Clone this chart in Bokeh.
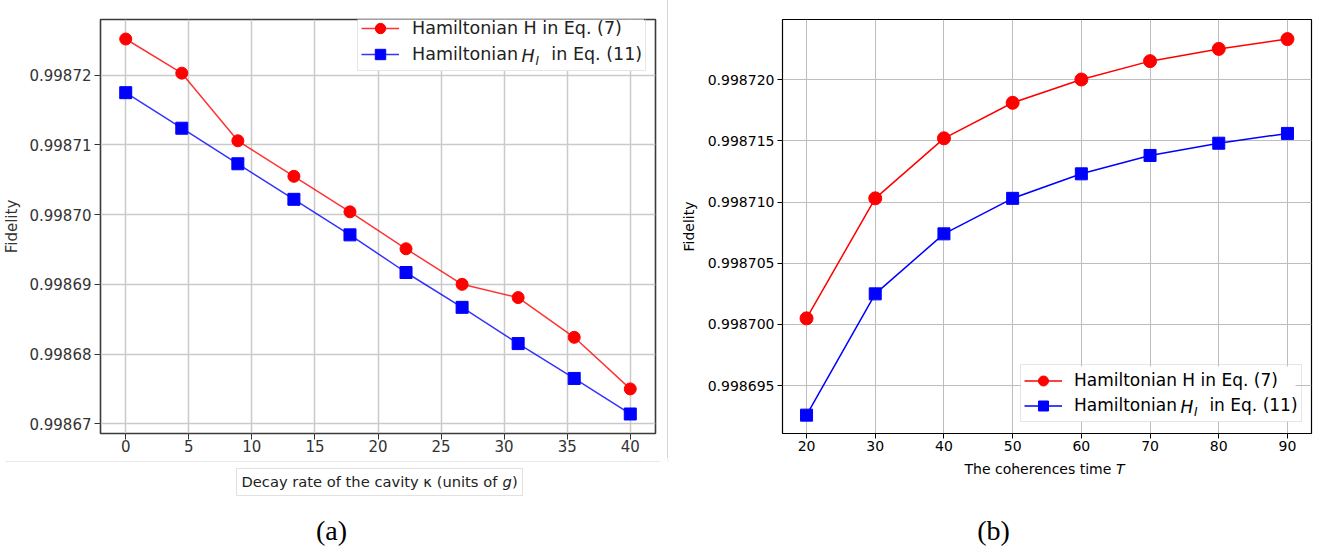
from bokeh.plotting import figure
from bokeh.layouts import row, column
from bokeh.models import Label, BoxAnnotation, PrintfTickFormatter, Div
from bokeh.embed import file_html
from bokeh.resources import INLINE

# ---------------- data: panel (a) ----------------
kappa = [0.0, 4.444, 8.889, 13.333, 17.778, 22.222, 26.667, 31.111, 35.556, 40.0]
fid_H_a = [0.9987252, 0.9987203, 0.9987106, 0.9987055, 0.9987004,
           0.9986951, 0.9986900, 0.9986881, 0.9986824, 0.9986750]
fid_HI_a = [0.9987175, 0.9987124, 0.9987073, 0.9987022, 0.9986971,
            0.9986917, 0.9986867, 0.9986815, 0.9986765, 0.9986714]
a_xticks = [0, 5, 10, 15, 20, 25, 30, 35, 40]
a_yticks = [0.99867, 0.99868, 0.99869, 0.99870, 0.99871, 0.99872]

# ---------------- data: panel (b) ----------------
T_coh = [20, 30, 40, 50, 60, 70, 80, 90]
fid_H_b = [0.9987005, 0.9987103, 0.9987152, 0.9987181,
           0.9987200, 0.9987215, 0.9987225, 0.9987233]
fid_HI_b = [0.9986926, 0.9987025, 0.9987074, 0.9987103,
            0.9987123, 0.9987138, 0.9987148, 0.9987156]
b_xticks = [20, 30, 40, 50, 60, 70, 80, 90]
b_yticks = [0.998695, 0.998700, 0.998705, 0.998710, 0.998715, 0.998720]

label_H = "Hamiltonian H in Eq. (7)"
label_HI = "Hamiltonian\u00a0\u00a0\u00a0\u00a0\u00a0\u00a0in Eq. (11)"

FONT = "DejaVu Sans"


def style_axes(p, tick_size, color, grid_color, grid_width, outline_color, outline_width):
    for ax in (p.xaxis, p.yaxis):
        ax.major_label_text_font = FONT
        ax.major_label_text_font_size = tick_size
        ax.major_label_text_color = color
        ax.major_tick_line_color = color
        ax.major_tick_out = 5
        ax.major_tick_in = 0
        ax.minor_tick_line_color = None
        ax.axis_line_color = None
        ax.major_label_standoff = 3
        ax.axis_label_text_font = FONT
        ax.axis_label_text_font_style = "normal"
        ax.axis_label_text_color = color
    p.xgrid.grid_line_color = grid_color
    p.ygrid.grid_line_color = grid_color
    p.xgrid.grid_line_width = grid_width
    p.ygrid.grid_line_width = grid_width
    p.outline_line_color = outline_color
    p.outline_line_width = outline_width
    p.background_fill_color = "white"
    p.border_fill_color = "white"


def lab(p, x, y, text, size, italic=False, align="left", font=FONT, color="black"):
    p.add_layout(Label(x=x, y=y, x_units="screen", y_units="screen", text=text,
                       text_font=font, text_font_size=size,
                       text_font_style="italic" if italic else "normal",
                       text_align=align, text_baseline="middle", text_color=color,
                       level="overlay"))


def sbox(p, left, right, top, bottom, color, width=1, fill=None, level="annotation"):
    p.add_layout(BoxAnnotation(left=left, right=right, top=top, bottom=bottom,
                               left_units="screen", right_units="screen",
                               top_units="screen", bottom_units="screen",
                               fill_color=fill if fill else "white",
                               fill_alpha=1 if fill else 0,
                               line_color=color, line_width=width, level=level))


def style_legend(lg, x, y, font_size, row_h, pad, standoff, color):
    lg.location = (x, y)
    lg.margin = 0
    lg.padding = pad
    lg.spacing = 0
    lg.glyph_width = 38
    lg.glyph_height = row_h
    lg.label_height = row_h
    lg.label_standoff = standoff
    lg.label_text_font = FONT
    lg.label_text_font_size = font_size
    lg.label_text_color = color
    lg.border_line_color = "#cccccc"
    lg.border_line_width = 1
    lg.background_fill_alpha = 0


# ================= panel (a) =================
pa = figure(width=667, height=458, x_range=(-2, 42), y_range=(0.9986686, 0.998728),
            output_backend="svg", toolbar_location=None,
            min_border_left=98, min_border_right=12, min_border_top=4, min_border_bottom=24)
style_axes(pa, "15px", "#333333", "#cacaca", 1.5, "#3a3a3a", 1.6)
pa.xaxis.ticker = a_xticks
pa.yaxis.ticker = a_yticks
pa.yaxis.formatter = PrintfTickFormatter(format="%.5f")
pa.xaxis.major_tick_out = 6
pa.yaxis.major_tick_out = 6
pa.xaxis.major_label_standoff = 0
pa.yaxis.axis_label = "Fidelity"
pa.yaxis.axis_label_text_font_size = "15px"
pa.yaxis.axis_label_standoff = 5

# white legend background (beneath the data, above the grid)
sbox(pa, 257.5, 543.5, 419.5, 362.5, None, fill="white", level="underlay")

pa.line(kappa, fid_H_a, line_color="red", line_width=1.5, line_alpha=0.8, legend_label=label_H)
pa.scatter(kappa, fid_H_a, marker="circle", size=12, fill_color="red", line_color="red",
           legend_label=label_H)
pa.line(kappa, fid_HI_a, line_color="blue", line_width=1.5, line_alpha=0.8, legend_label=label_HI)
pa.scatter(kappa, fid_HI_a, marker="square", size=12, fill_color="blue", line_color="blue",
           legend_label=label_HI)
style_legend(pa.legend[0], 257, 362, "17.5px", 26, 3, 13, "#222222")

# italic H_I inside legend row 2
lab(pa, 421.0, 378.0, "H", "17.5px", italic=True, color="#222222")
lab(pa, 435.0, 372.8, "I", "12px", italic=True, color="#222222")

# ================= separator line =================
sep = Div(text="", width=1, height=458, margin=0,
          styles={"background-color": "#d6d6d6"})

# ================= panel (b) =================
pb = figure(width=657, height=458, x_range=(16.5, 93.5), y_range=(0.9986911, 0.9987249),
            output_backend="svg", toolbar_location=None,
            min_border_left=114, min_border_right=14, min_border_top=19, min_border_bottom=25)
style_axes(pb, "14px", "black", "#bdbdbd", 1, "black", 1.2)
pb.xaxis.ticker = b_xticks
pb.yaxis.ticker = b_yticks
pb.yaxis.formatter = PrintfTickFormatter(format="%.6f")
pb.xaxis.major_label_standoff = 2
pb.yaxis.axis_label = "Fidelity"
pb.yaxis.axis_label_text_font_size = "14px"
pb.yaxis.axis_label_standoff = 8

sbox(pb, 238.5, 513, 67, 12, None, fill="white", level="underlay")

pb.line(T_coh, fid_H_b, line_color="red", line_width=1.5, legend_label=label_H)
pb.scatter(T_coh, fid_H_b, marker="circle", size=13, fill_color="red", line_color="red",
           legend_label=label_H)
pb.line(T_coh, fid_HI_b, line_color="blue", line_width=1.5, legend_label=label_HI)
pb.scatter(T_coh, fid_HI_b, marker="square", size=12, fill_color="blue", line_color="blue",
           legend_label=label_HI)
style_legend(pb.legend[0], 238, 11.5, "17px", 25, 3, 12, "black")

lab(pb, 398.0, 27.0, "H", "17px", italic=True)
lab(pb, 411.5, 21.8, "I", "12px", italic=True)

# ================= bottom strip: axis titles and captions =================
strip = figure(width=1325, height=93, x_range=(0, 1), y_range=(0, 1),
               x_axis_type=None, y_axis_type=None, output_backend="svg",
               toolbar_location=None, min_border=0)
strip.outline_line_color = None
strip.xgrid.visible = False
strip.ygrid.visible = False
strip.background_fill_color = "white"
strip.border_fill_color = "white"

# strip screen y is measured upward from the page bottom (551)
sbox(strip, 5, 660, 90, 90, "#d6d6d6")
sbox(strip, 667.5, 667.5, 93, 90, "#d6d6d6")
sbox(strip, 236, 522, 83, 56, "#9a9a9a")
lab(strip, 241, 70, "Decay rate of the cavity \u03ba (units of", "14.7px", color="#222222")
lab(strip, 502, 70, "g", "14.7px", italic=True, color="#222222")
lab(strip, 511.5, 70, ")", "14.7px", color="#222222")

lab(strip, 964, 83, "The coherences time", "14px")
lab(strip, 1115.6, 83, "T", "14px", italic=True)

lab(strip, 331, 21, "(a)", "28px", align="center", font="Liberation Serif")
lab(strip, 993, 21, "(b)", "28px", align="center", font="Liberation Serif")

layout = column(row(pa, sep, pb), strip)
open("out.html", "w").write(file_html(layout, INLINE))
